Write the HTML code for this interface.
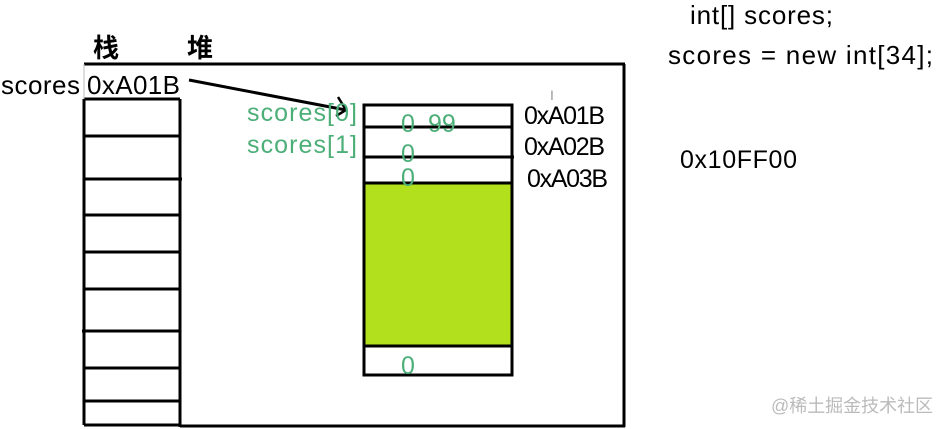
<!DOCTYPE html>
<html><head><meta charset="utf-8"><style>
html,body{margin:0;padding:0;background:#fff;width:949px;height:429px;overflow:hidden}
svg{display:block}
text{font-family:"Liberation Sans","Noto Sans CJK SC",sans-serif}
</style></head><body>
<svg width="949" height="429" viewBox="0 0 949 429">
<g stroke="#000" stroke-width="3" fill="none">
<line x1="84" y1="64" x2="625" y2="64"/>
<line x1="624" y1="64" x2="624" y2="427"/>
<line x1="180" y1="426" x2="625" y2="426"/>
<line x1="84" y1="99" x2="84" y2="425"/>
<line x1="180" y1="99" x2="180" y2="427"/>
<line x1="84" y1="425" x2="180" y2="425"/>
<line x1="84" y1="99" x2="180" y2="99"/>
<line x1="84" y1="136" x2="180" y2="136"/>
<line x1="84" y1="179" x2="182" y2="179"/>
<line x1="84" y1="215" x2="180" y2="215"/>
<line x1="84" y1="252" x2="180" y2="252"/>
<line x1="84" y1="289" x2="180" y2="289"/>
<line x1="82" y1="331" x2="180" y2="331"/>
<line x1="84" y1="368" x2="180" y2="368"/>
<line x1="84" y1="401" x2="180" y2="401"/>
</g>
<line x1="84" y1="64" x2="84" y2="99" stroke="#bbb" stroke-width="1"/>
<rect x="365" y="183" width="147" height="162" fill="#b2e01d"/>
<g stroke="#000" stroke-width="3" fill="none">
<rect x="364" y="105" width="148" height="270"/>
<line x1="364" y1="127" x2="512" y2="127"/>
<line x1="364" y1="157" x2="514" y2="157"/>
<line x1="364" y1="183" x2="512" y2="183"/>
<line x1="364" y1="346" x2="512" y2="346"/>
<path d="M189 80 L346 110"/>
<path d="M338 97 L346 110 L336 116" stroke-width="2.5"/>
</g>
<g font-size="26" fill="#000">
<text x="93" y="57" font-size="26" font-weight="bold">栈</text>
<text x="187" y="57" font-size="26" font-weight="bold">堆</text>
<text x="1" y="94" textLength="79">scores</text>
<text x="87" y="94" textLength="93">0xA01B</text>
<text x="524" y="124" font-size="25" textLength="81">0xA01B</text>
<text x="524" y="155" font-size="25" textLength="81">0xA02B</text>
<text x="527" y="187" font-size="25" textLength="81">0xA03B</text>
<text x="690" y="24" textLength="143">int[] scores;</text>
<text x="668" y="64" textLength="265">scores = new int[34];</text>
<text x="680" y="168" font-size="25" textLength="117">0x10FF00</text>
</g>
<g fill="#4caf78" font-size="25">
<text x="247" y="121" textLength="110">scores[0]</text>
<text x="247" y="153" textLength="110">scores[1]</text>
<text x="401" y="132">0</text>
<text x="428" y="132">99</text>
<text x="401" y="162">0</text>
<text x="401" y="186">0</text>
<text x="401" y="374">0</text>
</g>
<text x="771" y="412" font-size="18" fill="#bbb" textLength="162">@稀土掘金技术社区</text>
<text x="550" y="100" font-size="14" fill="#999">I</text>
</svg>
</body></html>
